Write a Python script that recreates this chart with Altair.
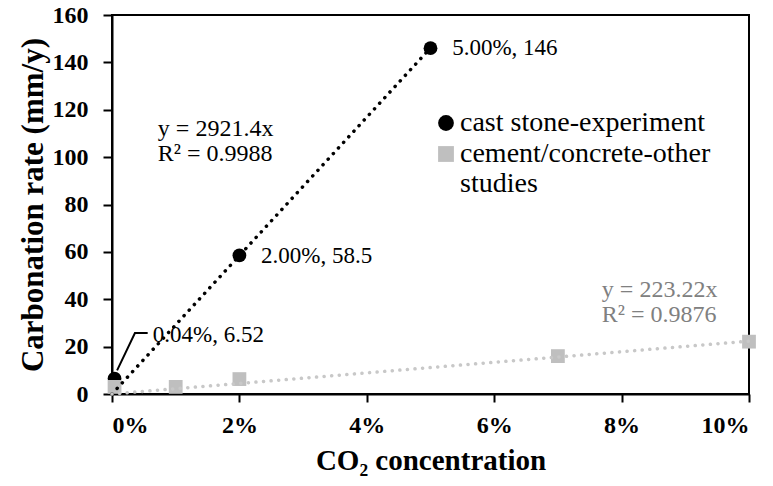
import altair as alt
import pandas as pd

FONT = "Liberation Serif"

# --- data ---
cast_x = [0.0004, 0.02, 0.05]
cast_y = [6.52, 58.5, 146.0]
other_x = [0.0004, 0.01, 0.02, 0.07, 0.10]
other_y = [3.0, 3.0, 6.3, 16.0, 22.1]
series_names = ["cast stone-experiment", "cement/concrete-other studies"]

trend_cast_x = [0.0, 0.05]
trend_cast_y = [0.0, 146.07]
trend_other_x = [0.0, 0.10]
trend_other_y = [0.0, 22.32]

label_text = ["0.04%, 6.52", "2.00%, 58.5", "5.00%, 146"]
label_x = [0.0064, 0.0234, 0.0534]
label_y = [25.0, 58.3, 146.0]

leader_x = [0.0008, 0.0036, 0.0056]
leader_y = [10.0, 25.7, 25.7]

eq_cast_text = ["y = 2921.4x", "R² = 0.9988"]
eq_cast_x = [0.0072, 0.0072]
eq_cast_y = [112.0, 101.5]
eq_other_text = ["y = 223.22x", "R² = 0.9876"]
eq_other_x = [0.0769, 0.0769]
eq_other_y = [44.0, 33.5]

x_ticks = [0, 0.02, 0.04, 0.06, 0.08, 0.10]
y_ticks = [0, 20, 40, 60, 80, 100, 120, 140, 160]

pts = pd.DataFrame({
    "x": cast_x + other_x,
    "y": cast_y + other_y,
    "series": [series_names[0]] * len(cast_x) + [series_names[1]] * len(other_x),
})
tc = pd.DataFrame({"x": trend_cast_x, "y": trend_cast_y})
to = pd.DataFrame({"x": trend_other_x, "y": trend_other_y})
labels = pd.DataFrame({"x": label_x, "y": label_y, "t": label_text})
leader = pd.DataFrame({"x": leader_x, "y": leader_y, "o": list(range(len(leader_x)))})
eqc = pd.DataFrame({"x": eq_cast_x, "y": eq_cast_y, "t": eq_cast_text})
eqo = pd.DataFrame({"x": eq_other_x, "y": eq_other_y, "t": eq_other_text})

xs = alt.Scale(domain=[0, 0.1], nice=False)
ys = alt.Scale(domain=[0, 160], nice=False)

X = alt.X("x:Q", scale=xs, axis=alt.Axis(
    format=".0%", values=x_ticks, title="CO₂ concentration", grid=False,
    tickSize=8, labelPadding=11, titlePadding=9, titleFontSize=29))
Y = alt.Y("y:Q", scale=ys, axis=alt.Axis(
    values=y_ticks, title="Carbonation rate (mm/y)", grid=False,
    tickSize=9, labelPadding=15, titlePadding=3, titleFontSize=31))

leg = alt.Legend(title=None, orient="none", legendX=320, legendY=94,
                 labelFont=FONT, labelFontSize=28, labelColor="black",
                 symbolSize=250, rowPadding=3, labelOffset=0, labelLimit=400,
                 labelExpr="datum.label == 'cement/concrete-other studies' ? ['cement/concrete-other', 'studies'] : datum.label")

points = alt.Chart(pts).mark_point(filled=True, opacity=1, strokeWidth=2).encode(
    x=X, y=Y,
    shape=alt.Shape("series:N", scale=alt.Scale(domain=series_names, range=["circle", "square"]), legend=leg),
    color=alt.Color("series:N", scale=alt.Scale(domain=series_names, range=["black", "#bfbfbf"]), legend=leg),
    size=alt.value(190),
)

trend_c = alt.Chart(tc).mark_line(color="black", strokeWidth=3.5, strokeDash=[0.1, 7.5], strokeCap="round").encode(x="x:Q", y="y:Q")
trend_o = alt.Chart(to).mark_line(color="#c8c8c8", strokeWidth=3.5, strokeDash=[0.1, 7.5], strokeCap="round").encode(x="x:Q", y="y:Q")

lead = alt.Chart(leader).mark_line(color="black", strokeWidth=2).encode(x="x:Q", y="y:Q", order="o:Q")

lab = alt.Chart(labels).mark_text(align="left", baseline="middle", font=FONT, fontSize=23, color="black").encode(
    x="x:Q", y="y:Q", text="t:N")
eq1 = alt.Chart(eqc).mark_text(align="left", baseline="middle", font=FONT, fontSize=24, color="black").encode(
    x="x:Q", y="y:Q", text="t:N")
eq2 = alt.Chart(eqo).mark_text(align="left", baseline="middle", font=FONT, fontSize=24, color="#808080").encode(
    x="x:Q", y="y:Q", text="t:N")

chart = alt.layer(points, trend_c, trend_o, lead, lab, eq1, eq2).properties(
    width=637, height=379,
    background="white",
    autosize=alt.AutoSizeParams(type="none"),
    padding={"left": 112, "top": 15, "right": 24, "bottom": 92},
).configure(font=FONT).configure_view(stroke="black", strokeWidth=2).configure_axis(
    domainColor="black", domainWidth=2, tickColor="black", tickWidth=2,
    labelFont=FONT, labelFontSize=24, labelFontWeight="bold", labelColor="black",
    titleFont=FONT, titleFontWeight="bold", titleColor="black",
)

chart.save("out.html", embed_options={"renderer": "svg", "actions": False})
